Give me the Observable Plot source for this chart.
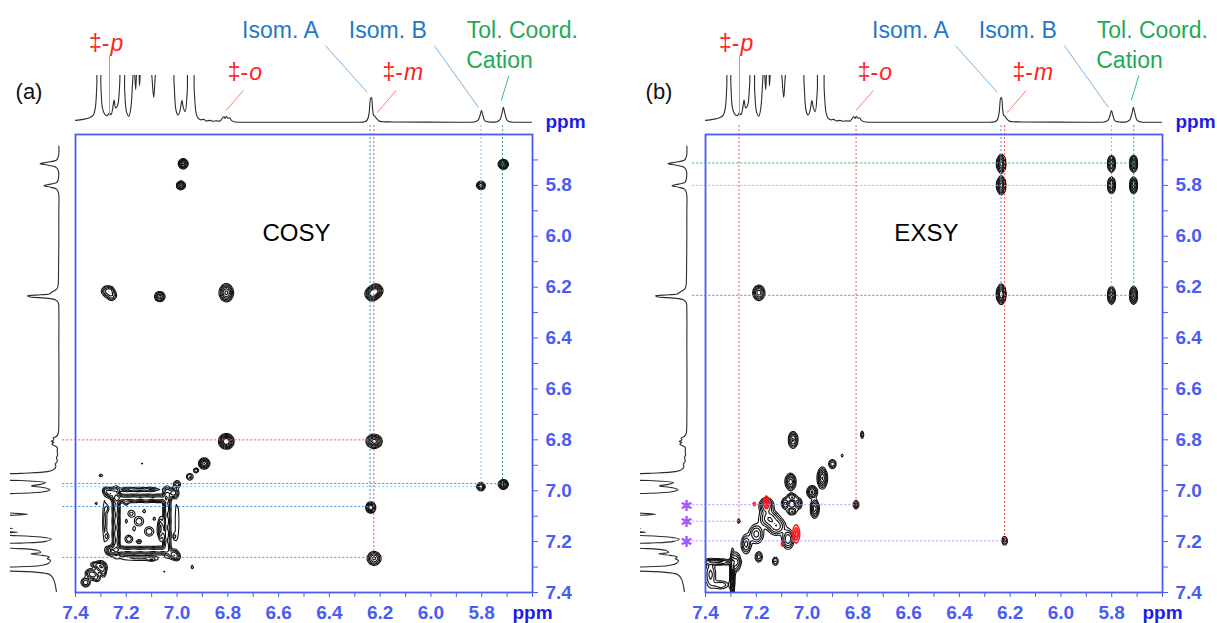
<!DOCTYPE html>
<html>
<head>
<meta charset="utf-8">
<script src="https://cdn.jsdelivr.net/npm/d3@7"></script>
<script src="https://cdn.jsdelivr.net/npm/@observablehq/plot@0.6"></script>
<style>
  body { margin: 0; background: #fff; }
  #root { position: relative; width: 1217px; height: 623px; overflow: hidden; background: #fff;
          font-family: "Liberation Sans", Arial, sans-serif; }
  #root svg { position: absolute; background: transparent !important; overflow: hidden; }
  .tag { position: absolute; font-size: 22px; color: #111; transform: translate(-50%, -50%); }
</style>
</head>
<body>
<div id="root"></div>
<script>
// ---------------- DATA ----------------
// 1D 1H spectrum (ppm, relative intensity; Isom. A peak = 1)
const specPpm = [7.400,7.370,7.345,7.330,7.322,7.316,7.312,7.304,7.300,7.294,7.285,7.275,7.267,7.260,7.254,7.248,7.242,7.234,7.226,7.220,7.212,7.206,7.199,7.190,7.182,7.175,7.170,7.163,7.157,7.152,7.148,7.143,7.135,7.110,7.100,7.092,7.085,7.075,7.020,7.012,7.004,6.996,6.988,6.981,6.975,6.968,6.960,6.952,6.940,6.932,6.925,6.918,6.905,6.895,6.885,6.870,6.860,6.845,6.830,6.822,6.816,6.810,6.806,6.800,6.793,6.786,6.775,6.700,6.400,6.300,6.260,6.250,6.243,6.238,6.234,6.230,6.226,6.221,6.215,6.205,6.190,6.150,5.900,5.830,5.815,5.807,5.801,5.795,5.787,5.770,5.740,5.728,5.720,5.715,5.709,5.700,5.685,5.645,5.600];
const specInt = [0.12,0.16,0.22,0.32,0.60,1.50,2.60,2.60,1.50,0.60,0.36,0.30,0.40,0.34,0.55,0.90,0.60,0.70,1.50,2.60,2.60,1.20,0.45,0.28,0.60,1.60,2.40,1.30,2.20,2.30,1.45,2.20,2.60,2.60,1.90,1.00,1.90,2.60,2.60,1.60,0.50,0.32,0.50,0.88,0.60,0.45,1.20,2.60,2.60,1.20,0.40,0.22,0.14,0.16,0.10,0.12,0.09,0.10,0.10,0.20,0.26,0.20,0.28,0.20,0.22,0.12,0.07,0.05,0.05,0.05,0.07,0.15,0.45,0.95,1.00,0.60,0.32,0.28,0.20,0.10,0.07,0.06,0.05,0.06,0.12,0.30,0.50,0.30,0.10,0.06,0.07,0.15,0.40,0.62,0.40,0.12,0.06,0.05,0.05];

// COSY cross/diagonal peaks: [F2 ppm, F1 ppm, amplitude, width F2, width F1]
const cosyPeaks = [
  [6.976,5.715,1.1,0.0085,0.0085],[6.985,5.800,0.8,0.008,0.008],
  [5.715,5.717,1.1,0.0085,0.0085],[5.803,5.800,0.7,0.008,0.008],
  [5.715,6.975,1.0,0.0085,0.0085],[5.803,6.984,0.6,0.008,0.008],
  [7.277,6.216,0.45,0.011,0.011],[7.258,6.232,0.40,0.011,0.011],[7.262,6.212,0.3,0.008,0.008],
  [7.068,6.237,0.75,0.0095,0.0095],[6.806,6.222,1.0,0.0125,0.016],
  [6.232,6.226,1.1,0.012,0.012],[6.216,6.214,0.9,0.012,0.012],
  [6.806,6.806,1.3,0.013,0.013],[6.224,6.806,1.1,0.014,0.012],
  [6.237,7.066,0.9,0.009,0.010],[6.224,7.266,0.7,0.013,0.013],
  [6.893,6.893,0.9,0.010,0.010],
  [7.24,7.02,0.5,0.008,0.02],[7.24,7.07,0.5,0.008,0.02],[7.24,7.12,0.5,0.008,0.02],[7.24,7.17,0.5,0.008,0.02],[7.24,7.22,0.5,0.008,0.02],
  [7.04,7.02,0.5,0.008,0.02],[7.04,7.07,0.5,0.008,0.02],[7.04,7.12,0.5,0.008,0.02],[7.04,7.17,0.5,0.008,0.02],[7.04,7.22,0.5,0.008,0.02],
  [7.22,7.03,0.5,0.02,0.008],[7.17,7.03,0.5,0.02,0.008],[7.12,7.03,0.5,0.02,0.008],[7.07,7.03,0.5,0.02,0.008],
  [7.22,7.235,0.5,0.02,0.008],[7.17,7.235,0.5,0.02,0.008],[7.12,7.235,0.5,0.02,0.008],[7.07,7.235,0.5,0.02,0.008],
  [7.262,7.009,0.6,0.01,0.01],[7.014,7.009,0.6,0.01,0.01],[7.014,7.25,0.6,0.01,0.01],[7.262,7.235,0.6,0.01,0.01],
  [7.15,7.12,0.25,0.012,0.012],[7.11,7.16,0.25,0.012,0.012],[7.18,7.09,0.2,0.01,0.01],[7.065,7.15,0.5,0.006,0.025],[7.19,7.19,0.25,0.01,0.01],
  [7.13,7.08,0.15,0.006,0.006],[7.17,7.15,0.15,0.005,0.008],[7.09,7.11,0.15,0.006,0.005],[7.2,7.12,0.15,0.004,0.007],
  [7.285,7.12,0.2,0.006,0.06],[7.15,6.995,0.2,0.06,0.006],[7.15,7.265,0.2,0.06,0.006],[7.0,7.12,0.18,0.005,0.06],
  [7.28,7.0,0.3,0.008,0.008],[7.0,7.26,0.3,0.008,0.008],[7.275,7.07,0.2,0.004,0.01],[7.275,7.18,0.2,0.004,0.01],
  [7.1,6.995,0.2,0.01,0.004],[7.2,6.995,0.2,0.01,0.004],[7.1,7.27,0.2,0.01,0.004],[7.01,7.18,0.2,0.004,0.01],
  [7.15,7.2,0.2,0.008,0.006],[7.2,7.05,0.18,0.006,0.006],
  [7.30,7.30,0.6,0.012,0.012],[7.33,7.33,0.5,0.01,0.01],[7.36,7.36,0.4,0.01,0.01],[7.345,7.325,0.3,0.01,0.01],[7.315,7.345,0.25,0.008,0.008],
  [7.32,7.29,0.35,0.012,0.006],[7.29,7.32,0.3,0.006,0.012],
  [7.00,6.975,0.35,0.008,0.008],[6.95,6.945,0.3,0.008,0.008],[6.925,6.92,0.3,0.006,0.006],
  [7.14,6.895,0.15,0.004,0.004],[7.30,6.94,0.16,0.006,0.005],[7.32,7.05,0.15,0.004,0.006],[6.89,7.14,0.12,0.004,0.006],
  [6.94,7.30,0.15,0.005,0.006],[7.05,7.32,0.12,0.006,0.004],[7.05,7.37,0.11,0.003,0.002],[6.975,7.03,0.12,0.004,0.004],[7.37,7.05,0.12,0.002,0.003]
];

// EXSY positive (black) peaks
const exsyPeaks = [
  [6.235,5.715,1.1,0.008,0.016],[6.235,5.800,1.1,0.008,0.016],
  [5.801,5.715,0.9,0.007,0.015],[5.801,5.800,0.9,0.007,0.015],
  [5.714,5.715,1.0,0.007,0.015],[5.714,5.800,0.9,0.007,0.015],
  [6.235,6.228,1.3,0.008,0.017],[5.801,6.232,0.9,0.007,0.016],[5.714,6.232,0.95,0.007,0.016],
  [7.190,6.222,0.8,0.011,0.014],[6.110,6.106,0.2,0.0015,0.004],[6.140,6.137,0.15,0.0015,0.002],
  [7.055,6.800,0.7,0.009,0.016],[6.783,6.780,0.25,0.004,0.01],[6.900,6.895,0.4,0.008,0.01],
  [6.862,6.862,0.15,0.004,0.006],[6.940,6.950,0.9,0.009,0.02],[6.980,7.005,0.7,0.01,0.012],
  [7.065,6.965,0.8,0.01,0.016],[7.085,7.050,0.5,0.008,0.012],[7.035,7.050,0.5,0.008,0.012],
  [7.060,7.025,0.45,0.01,0.008],[7.060,7.080,0.45,0.01,0.008],[6.970,7.070,0.8,0.008,0.018],
  [6.807,7.055,0.35,0.006,0.01],[7.268,7.120,0.2,0.004,0.007],[6.222,7.197,0.35,0.006,0.01],
  [7.160,7.060,0.7,0.014,0.016],[7.150,7.110,0.6,0.02,0.018],[7.120,7.140,0.55,0.018,0.018],
  [7.200,7.170,0.5,0.015,0.02],[7.075,7.190,0.6,0.012,0.02],[7.125,7.277,0.3,0.007,0.01],
  [7.190,7.260,0.35,0.008,0.012],[7.240,7.210,0.5,0.01,0.02],[7.294,7.335,0.9,0.004,0.05],
  [7.355,7.280,0.5,0.04,0.006],[7.380,7.330,0.3,0.012,0.03],[7.340,7.370,0.25,0.02,0.01],[7.280,7.280,0.5,0.01,0.02]
];
// EXSY negative (red) peaks
const exsyNegPeaks = [
  [7.160,7.045,0.8,0.005,0.012],[7.210,7.052,0.3,0.003,0.006],
  [7.043,7.170,0.8,0.006,0.018],[7.095,7.210,0.3,0.003,0.006],[7.053,6.970,0.15,0.002,0.004]
];
const contourLevels = [0.08, 0.15, 0.25, 0.4, 0.6, 0.85];
const negLevels = [0.1, 0.3, 0.55];

// guide lines (ppm)
const guideTop = 5.565, guideLeft = 7.45;
const cosyVx = [6.24, 6.225, 5.803, 5.718];
const cosyVend = [7.066, 7.266, 6.984, 6.976];
const cosyVkind = ["isomA", "ddag", "isomB", "tol"];
const cosyHy = [6.80, 6.972, 6.984, 7.062, 7.262];
const cosyHend = [6.224, 5.715, 5.803, 6.237, 6.224];
const cosyHkind = ["ddag", "tol", "isomB", "isomA", "ddag"];

const exsyVx = [7.268, 6.807, 6.236, 6.222, 5.801, 5.713];
const exsyVend = [7.12, 7.055, 6.228, 7.197, 6.23, 6.23];
const exsyVkind = ["ddag", "ddag", "isomA", "ddag", "isomB", "tol"];
const exsyHy = [5.712, 5.80, 6.232, 7.055, 7.12, 7.197];
const exsyHend = [5.713, 5.801, 5.713, 6.807, 7.268, 6.222];
const exsyHkind = ["tol", "isomB", "isomA", "star", "star", "star"];
const starPpm = [7.055, 7.12, 7.197];
const starColumn = 7.475;
const starMark = "✱";

const lineKinds = ["ddag", "isomA", "isomB", "tol", "star"];

// top annotations (ppm, intensity level)
const ddagLetters = ["p", "o", "m"];
const ddagPpm = [7.266, 6.72, 6.11];
const ddagLevel = [3.08, 1.96, 1.96];
const signalText = ["Isom. A", "Isom. B", "Tol. Coord.", "Cation"];
const signalPpm = [6.593, 6.17, 5.64, 5.73];
const signalLevel = [3.58, 3.58, 3.58, 2.42];
const signalKind = ["isomA", "isomB", "tol", "tol"];
const leaderX1 = [7.266, 6.739, 6.137, 6.416, 5.987, 5.693];
const leaderY1 = [2.615, 1.27, 1.27, 3.0, 3.0, 1.846];
const leaderX2 = [7.266, 6.807, 6.212, 6.25, 5.813, 5.723];
const leaderY2 = [0.31, 0.5, 0.42, 1.19, 0.62, 0.885];
const leaderKind = ["ddag", "ddag", "ddag", "isomA", "isomB", "tol"];

// axes
const xTickValues = [7.4,7.3,7.2,7.1,7.0,6.9,6.8,6.7,6.6,6.5,6.4,6.3,6.2,6.1,6.0,5.9,5.8,5.7,5.6];
const xTickLabels = ["7.4","7.2","7.0","6.8","6.6","6.4","6.2","6.0","5.8"];
const yTickValues = [5.7,5.8,5.9,6.0,6.1,6.2,6.3,6.4,6.5,6.6,6.7,6.8,6.9,7.0,7.1,7.2,7.3,7.4];
const yTickLabels = ["5.8","6.0","6.2","6.4","6.6","6.8","7.0","7.2","7.4"];
const unitLabel = "ppm";
const panelTitles = ["COSY", "EXSY"];
const panelTags = ["(a)", "(b)"];

// ---------------- STYLE ----------------
const AXIS = "#4a5cf4", PPM = "#1c1ce6";
const lineColors = ["#ff4d4d", "#3b8fd8", "#86bde8", "#25b062", "#b58cff"];
const leaderColors = ["#ff7a7a", "#79b3e3", "#79b3e3", "#3cbf70", "#b58cff"];
const RED = "#ff1f1f", BLUE = "#1f78c8", GREEN = "#1faa55";

// ---------------- BUILD ----------------
const root = document.getElementById("root");
const spectrum = specPpm.map((p, i) => ({ppm: p, I: specInt[i]}));
const zip = (...cols) => cols[0].map((_, i) => cols.map(c => c[i]));

function field(peaks) {
  return (x, y) => {
    let v = 0;
    for (const [px, py, a, sx, sy] of peaks) {
      const dx = (x - px) / sx, dy = (y - py) / sy;
      const r = dx * dx + dy * dy;
      if (r < 40) v += a * Math.exp(-0.5 * r);
    }
    return v;
  };
}

function place(svg, left, top) {
  svg.style.left = left + "px";
  svg.style.top = top + "px";
  root.appendChild(svg);
}

const fmtX = d => { const k = d.toFixed(1); return k === "5.6" ? unitLabel : (xTickLabels.includes(k) ? k : ""); };
const fmtY = d => { const k = d.toFixed(1); return yTickLabels.includes(k) ? k : ""; };

function mainChart(cfg) {
  const vLines = zip(cfg.vx, cfg.vend, cfg.vkind).map(([x, y2, kind]) => ({x, y1: guideTop, y2, kind}));
  const hLines = zip(cfg.hy, cfg.hend, cfg.hkind).map(([y, x2, kind]) => ({y, x1: guideLeft, x2, kind}));
  const marks = [
    Plot.contour({value: field(cfg.peaks), thresholds: contourLevels, x1: 7.4, x2: 5.6, y1: 5.6, y2: 7.4,
                  stroke: "#111", fill: "none", strokeWidth: 1.1})
  ];
  if (cfg.neg) marks.push(Plot.contour({value: field(cfg.neg), thresholds: negLevels, x1: 7.4, x2: 5.6, y1: 5.6, y2: 7.4,
                  stroke: "#ff1a1a", fill: "none", strokeWidth: 1.5}));
  marks.push(
    Plot.ruleX(vLines, {x: "x", y1: "y1", y2: "y2", stroke: "kind", strokeWidth: 1, strokeDasharray: "2,2"}),
    Plot.ruleY(hLines, {y: "y", x1: "x1", x2: "x2", stroke: "kind", strokeWidth: 1, strokeDasharray: "2,2"})
  );
  if (cfg.stars) marks.push(Plot.text(cfg.stars, {x: starColumn, y: d => d, text: () => starMark, fill: "#a35cff",
                  fontSize: 15, fontFamily: '"DejaVu Sans", sans-serif', fontWeight: "bold", dy: 1}));
  marks.push(
    Plot.frame({stroke: AXIS, strokeWidth: 1.8}),
    Plot.text([cfg.title], {x: 6.53, y: 5.99, text: d => d, fill: "#000", fontSize: 24, fontWeight: "normal"}),
    Plot.text([unitLabel], {x: 5.6, y: 5.6, text: d => d, dx: 13, dy: -13, textAnchor: "start", fill: PPM, fontWeight: "bold", fontSize: 19})
  );
  const svg = Plot.plot({
    width: 600, height: 623,
    marginLeft: cfg.marginLeft, marginRight: cfg.marginRight, marginTop: 134, marginBottom: 31,
    style: {fontFamily: '"Liberation Sans", Arial, sans-serif', fontSize: "19px", fontWeight: "bold", color: AXIS},
    x: {domain: [7.4, 5.6], ticks: xTickValues, tickFormat: fmtX, tickSize: 5, tickPadding: 8, label: null, axis: "bottom"},
    y: {domain: [7.4, 5.6], ticks: yTickValues, tickFormat: fmtY, tickSize: 5, tickPadding: 8, label: null, axis: "right"},
    color: {domain: lineKinds, range: lineColors},
    marks
  });
  d3.select(svg).selectAll("text").filter(function () { return this.textContent === unitLabel; }).attr("fill", PPM);
  return svg;
}

function topChart(cfg) {
  const leaders = zip(leaderX1, leaderY1, leaderX2, leaderY2, leaderKind).map(([x1, y1, x2, y2, kind]) => ({x1, y1, x2, y2, kind}));
  const ddag = zip(ddagLetters, ddagPpm, ddagLevel).map(([letter, x, y]) => ({letter, x, y}));
  const sig = zip(signalText, signalPpm, signalLevel, signalKind).map(([text, x, y, kind]) => ({text, x, y, kind}));
  return Plot.plot({
    width: 600, height: 134,
    marginLeft: cfg.marginLeft, marginRight: cfg.marginRight, marginTop: 75, marginBottom: 11,
    style: {fontFamily: '"Liberation Sans", Arial, sans-serif'},
    x: {domain: [7.4, 5.6], axis: null},
    y: {domain: [0, 1.846], axis: null},
    color: {domain: lineKinds, range: leaderColors},
    marks: [
      Plot.line(spectrum, {x: "ppm", y: "I", clip: true, stroke: "#2b2b2b", strokeWidth: 1.1, curve: "catmull-rom"}),
      Plot.link(leaders, {x1: "x1", y1: "y1", x2: "x2", y2: "y2", stroke: "kind", strokeWidth: 1}),
      Plot.text(ddag, {x: "x", y: "y", text: () => "‡-", textAnchor: "end", fill: RED, fontSize: 23}),
      Plot.text(ddag, {x: "x", y: "y", text: "letter", textAnchor: "start", fill: RED, fontSize: 23, fontStyle: "italic", dx: 1}),
      Plot.text(sig.filter(d => d.kind !== "tol"), {x: "x", y: "y", text: "text", fill: BLUE, fontSize: 23}),
      Plot.text(sig.filter(d => d.kind === "tol"), {x: "x", y: "y", text: "text", fill: GREEN, fontSize: 23})
    ]
  });
}

function leftChart(cfg) {
  return Plot.plot({
    width: 75, height: 623,
    marginLeft: cfg.marginLeft, marginRight: cfg.marginRight, marginTop: 134, marginBottom: 31,
    x: {domain: [cfg.maxI, 0], axis: null},
    y: {domain: [7.4, 5.6], axis: null},
    marks: [
      Plot.line(spectrum.filter(d => d.ppm >= 5.64), {x: "I", y: "ppm", clip: true, stroke: "#2b2b2b", strokeWidth: 1.1, curve: "catmull-rom"})
    ]
  });
}

const panels = [
  {ox: 0, svgLeft: 0, marginLeft: 75, marginRight: 68, peaks: cosyPeaks, neg: null, stars: null,
   vx: cosyVx, vend: cosyVend, vkind: cosyVkind, hy: cosyHy, hend: cosyHend, hkind: cosyHkind,
   title: panelTitles[0], tag: panelTags[0], leftMargin: 15, maxI: 50 / 33},
  {ox: 630, svgLeft: 617, marginLeft: 88, marginRight: 55, peaks: exsyPeaks, neg: exsyNegPeaks, stars: starPpm,
   vx: exsyVx, vend: exsyVend, vkind: exsyVkind, hy: exsyHy, hend: exsyHend, hkind: exsyHkind,
   title: panelTitles[1], tag: panelTags[1], leftMargin: 17, maxI: 48 / 33}
];

for (const p of panels) {
  place(mainChart(p), p.svgLeft, 0);
  place(leftChart({marginLeft: 10, marginRight: p.leftMargin, maxI: p.maxI}), p.ox, 0);
  place(topChart(p), p.svgLeft, 0);
  const tag = document.createElement("div");
  tag.className = "tag";
  tag.textContent = p.tag;
  tag.style.left = (p.ox + 29) + "px";
  tag.style.top = "92px";
  root.appendChild(tag);
}
</script>
</body>
</html>
